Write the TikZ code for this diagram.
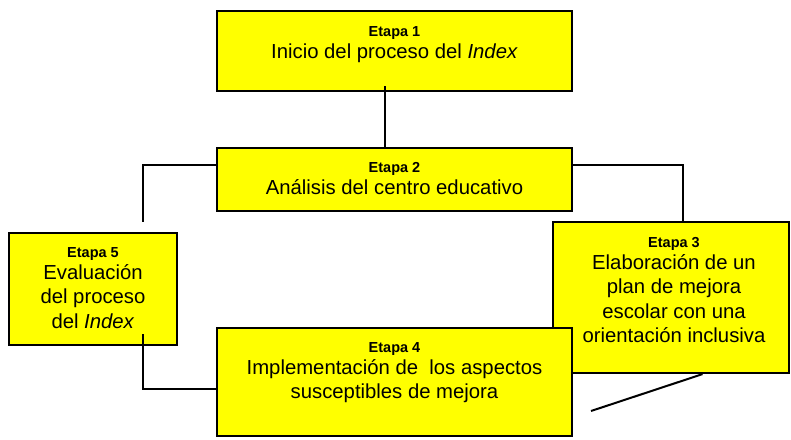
\documentclass[tikz,border=0pt]{standalone}
\usepackage{fontspec}
\setmainfont{Liberation Sans}
\usetikzlibrary{positioning,calc}
\definecolor{etapayellow}{RGB}{255,255,0}
\tikzset{
         etapa/.style=
          {
           draw=black,
           line width=2.2pt,
           fill=etapayellow,
           inner sep=0pt
          },
         etapatext/.style=
          {
           align=center,
           inner sep=0pt,
           font=\fontsize{20.3}{24.5}\selectfont
          },
         wire/.style={line width=2pt,black}
        }
\newcommand{\etapahead}[1]{{\fontsize{14.5}{17}\selectfont\bfseries Etapa #1}\\[-2.5pt]}

\begin{document}
\begin{tikzpicture}[x=1pt,y=1pt]
\useasboundingbox (0,0) rectangle (791,-439);
\node[etapa,minimum width=355pt,minimum height=80pt] (e1) at (394.5,-51) {}; % Etapa 1
\node[etapatext,below=16.5pt of e1.north] (t1) {\etapahead{1}Inicio del proceso del \textit{Index}}; % Etapa 1 text
\node[etapa,minimum width=355pt,minimum height=63pt] (e2) at (394.5,-179.5) {}; % Etapa 2
\node[etapatext,below=15.5pt of e2.north] (t2) {\etapahead{2}Análisis del centro educativo}; % Etapa 2 text
\node[etapa,minimum width=168pt,minimum height=112pt] (e5) at (93,-289) {}; % Etapa 5
\node[etapatext,below=15pt of e5.north] (t5) {\etapahead{5}Evaluación\\del proceso\\del \textit{Index}}; % Etapa 5 text
\node[etapa,minimum width=236pt,minimum height=151pt] (e3) at (671,-297.5) {}; % Etapa 3
\node[etapatext,below=16pt of e3.north,xshift=3pt] (t3) {\etapahead{3}Elaboración de un\\plan de mejora\\escolar con una\\orientación inclusiva}; % Etapa 3 text
\node[etapa,minimum width=355pt,minimum height=108pt] (e4) at (394.5,-382) {}; % Etapa 4
\node[etapatext,below=15pt of e4.north] (t4) {\etapahead{4}Implementación de\ \ los aspectos\\susceptibles de mejora}; % Etapa 4 text
\coordinate (c5) at (143,-222); % free end above Etapa 5
\coordinate (c4) at (591,-411); % free end below Etapa 3
\draw[wire] ([xshift=-9.5pt,yshift=6pt]e1.south) -- ([xshift=-9.5pt]e2.north); % 1 to 2
\draw[wire] ([yshift=14.5pt]e2.west) -| (c5); % 2 to 5
\draw[wire] ([yshift=14.5pt]e2.east) -| ([xshift=11.5pt]e3.north); % 2 to 3
\draw[wire] ([xshift=50pt,yshift=12pt]e5.south) |- ([yshift=-7pt]e4.west); % 5 to 4
\draw[wire] ([xshift=31.5pt]e3.south) -- (c4); % 3 to 4
\end{tikzpicture}
\end{document}
